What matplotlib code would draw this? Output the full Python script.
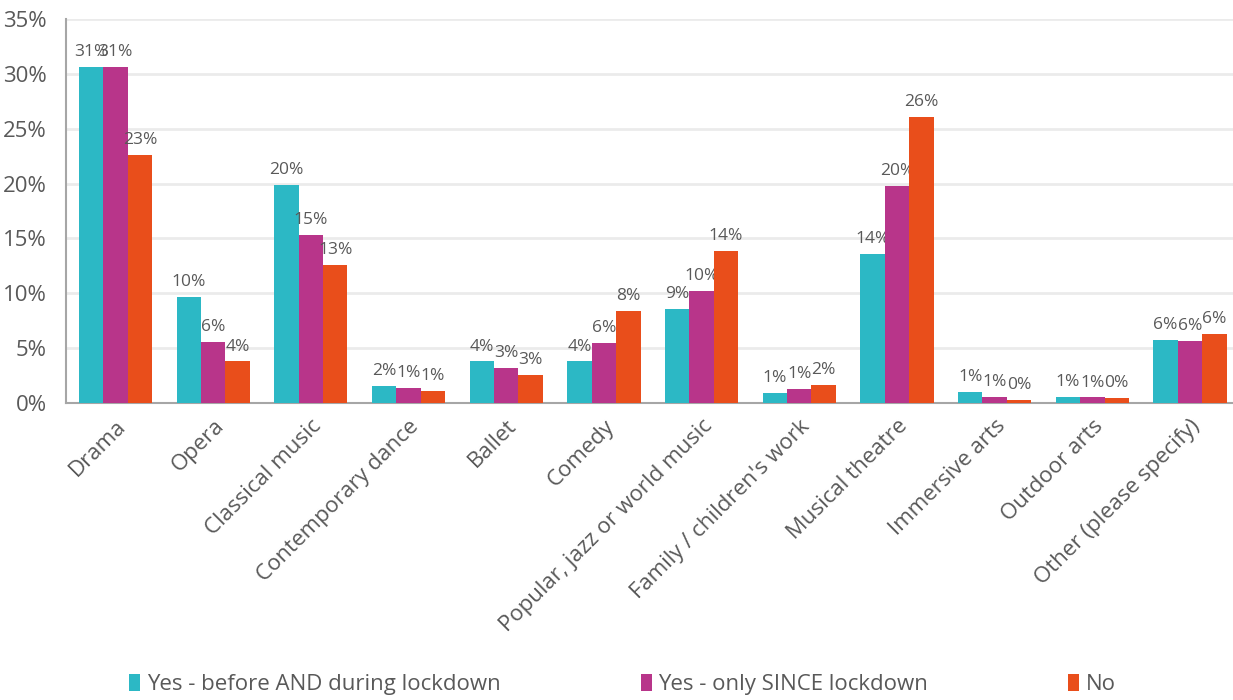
import numpy as np
import matplotlib.pyplot as plt
from matplotlib.ticker import FuncFormatter

plt.rcParams['font.family'] = ['Open Sans', 'DejaVu Sans']

# Categorias y series (valores en %)
categories = [
    "Drama", "Opera", "Classical music", "Contemporary dance", "Ballet",
    "Comedy", "Popular, jazz or world music", "Family / children's work",
    "Musical theatre", "Immersive arts", "Outdoor arts", "Other (please specify)",
]
before_and_during = [30.6, 9.7, 19.9, 1.6, 3.8, 3.8, 8.6, 0.9, 13.6, 1.0, 0.6, 5.8]
only_since = [30.6, 5.6, 15.3, 1.4, 3.2, 5.5, 10.2, 1.3, 19.8, 0.6, 0.52, 5.7]
no_answer = [22.6, 3.8, 12.6, 1.1, 2.6, 8.4, 13.9, 1.7, 26.1, 0.3, 0.45, 6.3]

series_labels = ["Yes - before AND during lockdown", "Yes - only SINCE lockdown", "No"]
colors = ["#2CB8C5", "#B8358A", "#E94E1B"]
TEXT_COLOR = "#595959"

fig = plt.figure(figsize=(12.33, 7), dpi=100)
ax = fig.add_axes([0.0535, 0.424, 0.9465, 0.549])

x = np.arange(len(categories))
width = 0.25
all_series = [before_and_during, only_since, no_answer]
for i, (vals, lab, col) in enumerate(zip(all_series, series_labels, colors)):
    bars = ax.bar(x + (i - 1) * width, vals, width, color=col, label=lab, zorder=3)
    for b, v in zip(bars, vals):
        ax.annotate(f"{round(v)}%", (b.get_x() + b.get_width() / 2, v),
                    xytext=(0, 5), textcoords="offset points",
                    ha="center", va="bottom", fontsize=12.5, color=TEXT_COLOR)

ax.set_xlim(-0.507, 11.44)
ax.set_ylim(0, 35)
ax.set_yticks(range(0, 36, 5))
ax.yaxis.set_major_formatter(FuncFormatter(lambda v, p: f"{int(v)}%"))
ax.set_xticks(x)
ax.set_xticklabels(categories, rotation=45, ha="right", rotation_mode="anchor")
ax.tick_params(axis="both", length=0, colors=TEXT_COLOR, labelsize=16)
ax.tick_params(axis="x", pad=9)
ax.tick_params(axis="y", pad=14)
ax.grid(axis="y", color="#EBEBEB", linewidth=2, zorder=0)
for s in ["top", "right"]:
    ax.spines[s].set_visible(False)
for s in ["left", "bottom"]:
    ax.spines[s].set_color("#A6A6A6")
    ax.spines[s].set_linewidth(1.5)

leg = fig.legend(loc="lower center", bbox_to_anchor=(0.505, -0.022), ncol=3,
                 frameon=False, fontsize=16, handlelength=0.5, handleheight=0.8,
                 handletextpad=0.3, columnspacing=6.3)
for t in leg.get_texts():
    t.set_color(TEXT_COLOR)

fig.savefig("out.png", dpi=100)
